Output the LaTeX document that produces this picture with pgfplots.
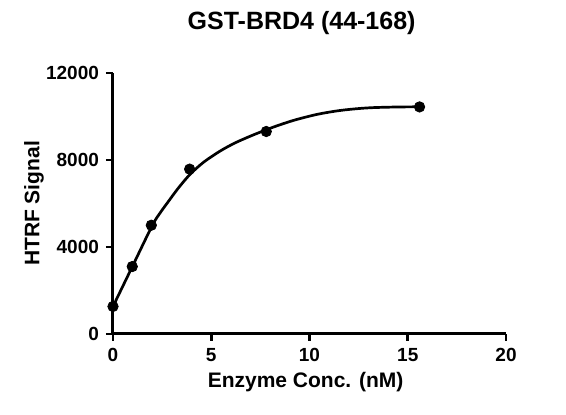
\documentclass[border=0pt]{standalone}
\usepackage{fontspec}
\setmainfont{Liberation Sans}
\usepackage{pgfplots}
\pgfplotsset{compat=1.18}

\begin{document}
\begin{tikzpicture}
% 1 px of the reference = 0.5pt
\path[use as bounding box] (-56.5pt,-40.5pt) rectangle (226.5pt,167pt);
\begin{axis}[
    at={(0,0)}, anchor=south west,
    scale only axis,
    width=196.5pt, height=130.5pt,
    xmin=0, xmax=20, ymin=0, ymax=12000,
    axis lines=left,
    axis line style={-, line width=1.5pt},
    xtick={0,5,10,15,20},
    ytick={0,4000,8000,12000},
    tick style={black, line width=1.3pt},
    tick align=outside,
    major tick length=3.5pt,
    scaled y ticks=false,
    /pgf/number format/assume math mode=true,
    /pgf/number format/set thousands separator={},
    tick label style={font=\bfseries\fontsize{9.5}{10}\selectfont},
    xticklabel style={yshift=-0.3pt},
    xlabel={Enzyme Conc. (nM)},
    ylabel={HTRF Signal},
    label style={font=\bfseries\fontsize{10.5}{12}\selectfont},
    xlabel style={at={(axis description cs:0.49,-0.184)}, anchor=center},
    ylabel style={at={(axis description cs:-0.201,0.5)}, anchor=center, rotate=0},
    title={GST-BRD4 (44-168)},
    title style={at={(axis description cs:0.48,1.146)}, anchor=center,
        font=\bfseries\fontsize{12.5}{14}\selectfont},
    clip=false,
]
% fitted curve
\addplot[black, line width=1.35pt, smooth, no marks] coordinates {
(0,1266) (1,3130) (2,4990) (2.4,5570) (2.8,6070) (3.3,6680) (3.9,7320)
(4.6,7890) (5.45,8410) (6.2,8780) (7,9100) (7.8,9390) (8.5,9620)
(9.3,9850) (10.4,10100) (11.5,10270) (12.5,10365) (13.3,10410)
(14.5,10437) (15.6,10445)};
% measured points
\addplot[only marks, mark=*, mark size=2.6pt, black] coordinates {
(0,1266) (0.98,3100) (1.95,5000) (3.9,7580) (7.8,9310) (15.6,10440)};
\end{axis}
\end{tikzpicture}
\end{document}
